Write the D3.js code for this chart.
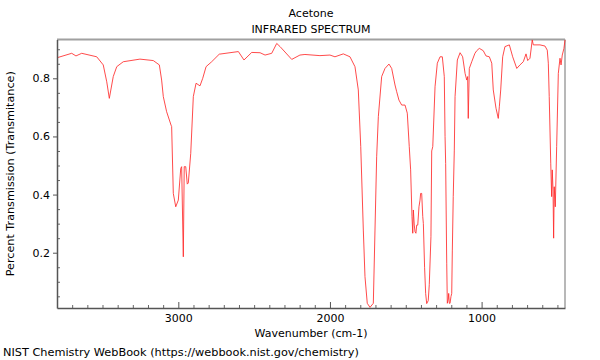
<!DOCTYPE html>
<html>
<head>
<meta charset="utf-8">
<script src="https://cdn.jsdelivr.net/npm/d3@7/dist/d3.min.js"></script>
<style>
  html, body { margin: 0; padding: 0; background: #fff; }
  svg { display: block; font-family: "DejaVu Sans", sans-serif; }
</style>
</head>
<body>
<svg id="chart" width="600" height="360"></svg>
<script>
// ---- data ----
const wavenumbers = [
  3798, 3703, 3675, 3637, 3538, 3495, 3472, 3455, 3429, 3406, 3363, 3253, 3165, 3125,
  3110, 3099, 3077, 3048, 3044, 3033, 3017, 3000, 2984, 2978, 2967, 2961, 2951, 2941,
  2934, 2918, 2901, 2883, 2857, 2839, 2817, 2780, 2730, 2604, 2567, 2516, 2461, 2428,
  2384, 2351, 2329, 2252, 2198, 2165, 2066, 2000, 1967, 1912, 1868, 1835, 1813, 1797,
  1780, 1769, 1754, 1736, 1714, 1703, 1692, 1681, 1659, 1637, 1611, 1593, 1571, 1560,
  1545, 1527, 1505, 1490, 1477, 1468, 1459, 1454, 1450, 1444, 1439, 1433, 1428, 1421,
  1413, 1406, 1402, 1395, 1388, 1384, 1376, 1369, 1362, 1352, 1345, 1334, 1329, 1322,
  1307, 1292, 1274, 1259, 1246, 1241, 1237, 1230, 1226, 1220, 1217, 1213, 1208, 1202,
  1197, 1193, 1187, 1180, 1175, 1160, 1142, 1125, 1109, 1098, 1092, 1088, 1081, 1065,
  1044, 1032, 1015, 989, 971, 949, 933, 923, 905, 890, 883, 874, 861, 846, 817, 795,
  768, 747, 725, 707, 696, 681, 666, 659, 615, 582, 567, 560, 554, 544, 538, 534, 529,
  525, 521, 514, 505, 494, 483, 476, 468, 457, 450
];
const transmittance = [
  0.871, 0.886, 0.877, 0.886, 0.874, 0.846, 0.788, 0.731, 0.806, 0.840, 0.857, 0.866, 0.861, 0.846,
  0.794, 0.737, 0.685, 0.639, 0.634, 0.404, 0.358, 0.381, 0.490, 0.496, 0.186, 0.496, 0.496, 0.436,
  0.440, 0.542, 0.737, 0.783, 0.774, 0.800, 0.840, 0.857, 0.883, 0.892, 0.863, 0.889, 0.888, 0.880,
  0.886, 0.920, 0.909, 0.865, 0.880, 0.882, 0.878, 0.880, 0.874, 0.884, 0.874, 0.840, 0.760, 0.565,
  0.278, 0.118, 0.026, 0.012, 0.026, 0.278, 0.530, 0.668, 0.806, 0.834, 0.849, 0.834, 0.777, 0.754,
  0.725, 0.708, 0.708, 0.680, 0.565, 0.485, 0.324, 0.267, 0.347, 0.295, 0.272, 0.267, 0.295, 0.295,
  0.358, 0.381, 0.404, 0.404, 0.324, 0.300, 0.150, 0.060, 0.025, 0.035, 0.090, 0.255, 0.550, 0.565,
  0.771, 0.852, 0.874, 0.874, 0.806, 0.600, 0.507, 0.164, 0.026, 0.040, 0.060, 0.026, 0.026, 0.049,
  0.060, 0.209, 0.393, 0.553, 0.737, 0.863, 0.888, 0.874, 0.817, 0.794, 0.806, 0.662, 0.834, 0.857,
  0.886, 0.895, 0.903, 0.895, 0.877, 0.874, 0.852, 0.760, 0.697, 0.662, 0.702, 0.760, 0.874, 0.909, 0.915, 0.874,
  0.834, 0.846, 0.857, 0.884, 0.861, 0.869, 0.932, 0.915, 0.915, 0.911, 0.897, 0.852, 0.737, 0.508, 0.393, 0.485, 0.416,
  0.250, 0.427, 0.358, 0.565, 0.817, 0.869, 0.846, 0.880, 0.903, 0.932
];
const xMajorTicks = [3000, 2000, 1000];
const yMajorTicks = [0.2, 0.4, 0.6, 0.8];
const titleLines = ["Acetone", "INFRARED SPECTRUM"];
const xLabel = "Wavenumber (cm-1)";
const yLabel = "Percent Transmission (Transmitance)";
const footer = "NIST Chemistry WebBook (https://webbook.nist.gov/chemistry)";

// ---- layout ----
const svg = d3.select("#chart");
const L = 57, R = 565, T = 39.5, B = 308;

const x = d3.scaleLinear().domain([3800, 450]).range([L, R]);
const y = d3.scaleLinear().domain([0.0098, 0.9335]).range([B, T]);

const points = wavenumbers.map((w, i) => [w, transmittance[i]]);

// frame top/right (gray)
svg.append("line").attr("x1", L).attr("x2", R).attr("y1", T).attr("y2", T)
  .attr("stroke", "#a0a0a0").attr("stroke-width", 2);
svg.append("line").attr("x1", R).attr("x2", R).attr("y1", T).attr("y2", B)
  .attr("stroke", "#a0a0a0").attr("stroke-width", 1.5);

// spectrum
svg.append("path")
  .datum(points)
  .attr("fill", "none")
  .attr("stroke", "#ff2a2a")
  .attr("stroke-width", 0.85)
  .attr("stroke-linejoin", "round")
  .attr("d", d3.line().x(d => x(d[0])).y(d => y(d[1])));

// minor ticks
const xMinor = d3.range(500, 3800, 100).filter(v => !xMajorTicks.includes(v));
const yMinor = d3.range(1, 19).map(i => +(i * 0.05).toFixed(2)).filter(v => !yMajorTicks.some(m => Math.abs(m - v) < 1e-6));

const gxMinor = svg.append("g").attr("transform", `translate(0,${B})`)
  .call(d3.axisBottom(x).tickValues(xMinor).tickSize(-3).tickFormat(""));
const gyMinor = svg.append("g").attr("transform", `translate(${L},0)`)
  .call(d3.axisLeft(y).tickValues(yMinor).tickSize(-3).tickFormat(""));
[gxMinor, gyMinor].forEach(g => {
  g.select(".domain").remove();
  g.selectAll("line").attr("stroke", "#666");
});

// major axes
const gx = svg.append("g").attr("transform", `translate(0,${B})`)
  .call(d3.axisBottom(x).tickValues(xMajorTicks).tickSizeInner(-6).tickSizeOuter(0).tickPadding(6).tickFormat(d3.format("d")));
const gy = svg.append("g").attr("transform", `translate(${L},0)`)
  .call(d3.axisLeft(y).tickValues(yMajorTicks).tickSizeInner(4).tickSizeOuter(0).tickPadding(3).tickFormat(d3.format(".1f")));
[gx, gy].forEach(g => {
  g.select(".domain").attr("stroke", "#555").attr("stroke-width", 1.5);
  g.selectAll("line").attr("stroke", "#555");
  g.selectAll("text").attr("fill", "#000").style("font-size", "11px").style("font-family", "DejaVu Sans");
});

// titles
svg.append("text").attr("x", 311).attr("y", 17).attr("text-anchor", "middle")
  .style("font-size", "11px").text(titleLines[0]);
svg.append("text").attr("x", 311).attr("y", 33).attr("text-anchor", "middle")
  .style("font-size", "11px").text(titleLines[1]);

// axis labels
svg.append("text").attr("x", (L + R) / 2).attr("y", 337).attr("text-anchor", "middle")
  .style("font-size", "11px").text(xLabel);
svg.append("text").attr("transform", `translate(14,${(T + B) / 2}) rotate(-90)`)
  .attr("text-anchor", "middle").style("font-size", "11.2px").text(yLabel);

// footer
svg.append("text").attr("x", 3).attr("y", 356).style("font-size", "11.3px").text(footer);
</script>
</body>
</html>
